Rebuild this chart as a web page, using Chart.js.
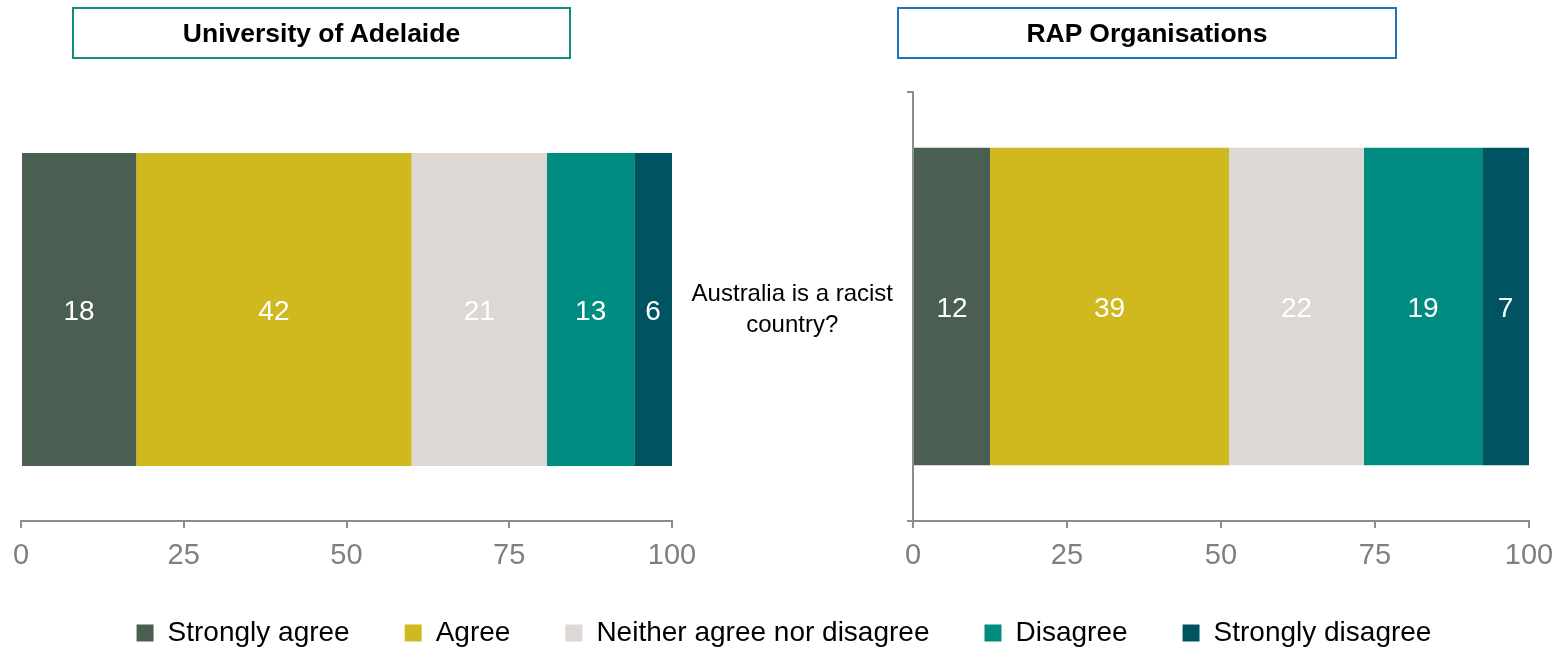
<!DOCTYPE html>
<html>
<head>
<meta charset="utf-8">
<script src="https://cdn.jsdelivr.net/npm/chart.js@4"></script>
<style>
  body { margin: 0; background: #fff; }
  #wrap { position: relative; width: 1568px; height: 647px; }
  canvas { position: absolute; top: 0; left: 0; }
  .box { position: absolute; top: 7px; height: 48px; border: 2px solid; box-sizing: content-box;
         font: bold 26.5px 'Liberation Sans', Arial, sans-serif; color: #000;
         display: flex; align-items: center; justify-content: center; }
</style>
</head>
<body>
<div id="wrap">
  <canvas id="rap" width="1568" height="647"></canvas>
  <canvas id="uni" width="740" height="647"></canvas>
  <div class="box" style="left:72px;width:495px;border-color:#128c80">University of Adelaide</div>
  <div class="box" style="left:897px;width:496px;border-color:#1f74bd">RAP Organisations</div>
</div>
<script>
const categories = [['Australia is a racist', 'country?']];
const seriesNames = ['Strongly agree', 'Agree', 'Neither agree nor disagree', 'Disagree', 'Strongly disagree'];
const seriesColors = ['#4a5e51', '#d0b81f', '#ddd8d4', '#008c80', '#005461'];
const uniValues = [17.7, 42.3, 20.8, 13.4, 5.8];
const uniLabels = [18, 42, 21, 13, 6];
const rapValues = [12.5, 38.8, 21.9, 19.2, 7.6];
const rapLabels = [12, 39, 22, 19, 7];
const xTicks = [0, 25, 50, 75, 100];

const FONT = "'Liberation Sans', Arial, sans-serif";
const AXIS_GREY = '#8c8c8c';
const X_AXIS_H = 43;

// white numbers in the middle of each segment
const segLabels = {
  id: 'segLabels',
  afterDatasetsDraw(chart, args, opts) {
    const ctx = chart.ctx;
    ctx.save();
    ctx.font = '28px ' + FONT;
    ctx.fillStyle = '#fff';
    ctx.textAlign = 'center';
    ctx.textBaseline = 'middle';
    chart.data.datasets.forEach((ds, i) => {
      const bar = chart.getDatasetMeta(i).data[0];
      ctx.fillText(String(opts.labels[i]), (bar.x + bar.base) / 2, bar.y + 3);
    });
    ctx.restore();
  }
};

function makeDatasets(values) {
  return seriesNames.map((name, i) => ({
    label: name,
    data: [values[i]],
    backgroundColor: seriesColors[i],
    borderWidth: 0,
    barPercentage: 0.74,
    categoryPercentage: 1
  }));
}

function xScale() {
  return {
    stacked: true,
    min: 0, max: 100,
    afterBuildTicks(scale) { scale.ticks = xTicks.map(v => ({ value: v })); },
    afterFit(scale) { scale.height = X_AXIS_H; },
    ticks: { color: '#7f7f7f', font: { family: FONT, size: 29 }, padding: 11, maxRotation: 0 },
    grid: { drawOnChartArea: false, tickLength: 7, color: AXIS_GREY, lineWidth: 2 },
    border: { color: AXIS_GREY, width: 2 }
  };
}

new Chart(document.getElementById('uni'), {
  type: 'bar',
  data: { labels: categories, datasets: makeDatasets(uniValues) },
  options: {
    indexAxis: 'y',
    responsive: false,
    animation: false,
    layout: { padding: { left: 21, right: 68, top: 98, bottom: 126 - X_AXIS_H } },
    scales: {
      x: xScale(),
      y: { stacked: true, display: false }
    },
    plugins: {
      legend: { display: false },
      tooltip: { enabled: false },
      segLabels: { labels: uniLabels }
    }
  },
  plugins: [segLabels]
});

new Chart(document.getElementById('rap'), {
  type: 'bar',
  data: { labels: categories, datasets: makeDatasets(rapValues) },
  options: {
    indexAxis: 'y',
    responsive: false,
    animation: false,
    layout: { padding: { left: 39, right: 39, top: 92, bottom: 0 } },
    scales: {
      x: xScale(),
      y: {
        stacked: true,
        afterFit(scale) { scale.width = 874; },
        ticks: { color: '#000', font: { family: FONT, size: 24, lineHeight: 1.3 }, padding: 14, crossAlign: 'center', labelOffset: 3 },
        grid: { drawOnChartArea: false, offset: true, tickLength: 6, color: AXIS_GREY, lineWidth: 2 },
        border: { color: AXIS_GREY, width: 2 }
      }
    },
    plugins: {
      legend: {
        position: 'bottom',
        maxHeight: 126 - X_AXIS_H,
        labels: {
          color: '#000',
          font: { family: FONT, size: 28 },
          boxWidth: 17, boxHeight: 17,
          padding: 55
        }
      },
      tooltip: { enabled: false },
      segLabels: { labels: rapLabels }
    }
  },
  plugins: [segLabels]
});
</script>
</body>
</html>
